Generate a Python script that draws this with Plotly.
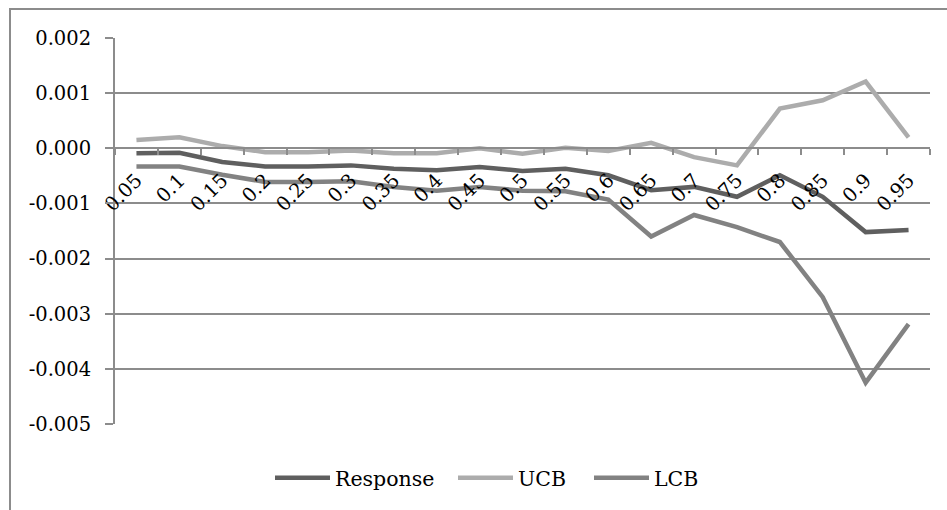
import plotly.graph_objects as go

# Quantile levels on the category axis
quantiles = ["0.05", "0.1", "0.15", "0.2", "0.25", "0.3", "0.35", "0.4", "0.45", "0.5",
             "0.55", "0.6", "0.65", "0.7", "0.75", "0.8", "0.85", "0.9", "0.95"]

# Estimated response with upper / lower confidence bounds
response = [-0.00009, -0.00008, -0.00025, -0.00033, -0.00033, -0.00031, -0.00037, -0.00040,
            -0.00034, -0.00041, -0.00037, -0.00049, -0.00076, -0.00070, -0.00088, -0.00049,
            -0.00088, -0.00152, -0.00148]
ucb = [0.00015, 0.00020, 0.00004, -0.00007, -0.00007, -0.00004, -0.00009, -0.00009,
       0.00000, -0.00010, 0.00001, -0.00005, 0.00010, -0.00016, -0.00031, 0.00072,
       0.00087, 0.00121, 0.00020]
lcb = [-0.00033, -0.00033, -0.00048, -0.00061, -0.00061, -0.00060, -0.00070, -0.00077,
       -0.00070, -0.00077, -0.00078, -0.00093, -0.00160, -0.00121, -0.00143, -0.00170,
       -0.00270, -0.00425, -0.00319]

# Value axis ticks
y_ticks = [0.002, 0.001, 0.0, -0.001, -0.002, -0.003, -0.004, -0.005]
y_tick_text = ["0.002", "0.001", "0.000", "-0.001", "-0.002", "-0.003", "-0.004", "-0.005"]

Y_MIN, Y_MAX = -0.005, 0.002
FONT = "DejaVu Serif"
GRID = "#8c8c8c"

W, H = 947, 510
L, R, T, B = 115, 17, 38, 86
pw, ph = W - L - R, H - T - B


def px_x(p):
    return (p - L) / pw


def px_y(p):
    return (H - B - p) / ph


# each series gets its own legend box so the entries can be spaced freely
series = [("Response", response, "#5f5f5f", "legend", 270),
          ("UCB", ucb, "#acacac", "legend2", 453),
          ("LCB", lcb, "#828282", "legend3", 589)]

fig = go.Figure()
legend_layout = {}
for name, values, color, leg, left in series:
    fig.add_trace(go.Scatter(x=quantiles, y=values, name=name, mode="lines",
                             legend=leg, showlegend=True,
                             line=dict(color=color, width=4.5)))
    legend_layout[leg] = dict(orientation="h", x=px_x(left), xanchor="left",
                              y=px_y(478), yanchor="middle", itemwidth=55,
                              font=dict(family=FONT, size=20.5),
                              bgcolor="rgba(0,0,0,0)")

fig.update_layout(
    width=W, height=H, showlegend=True,
    margin=dict(l=L, r=R, t=T, b=B, autoexpand=False),
    paper_bgcolor="white", plot_bgcolor="white",
    font=dict(family=FONT, size=19.5, color="black"),
    xaxis=dict(
        type="category", anchor="free", range=[-0.5, len(quantiles) - 0.5],
        position=(0 - Y_MIN) / (Y_MAX - Y_MIN),
        showline=True, linecolor=GRID, linewidth=2,
        ticks="outside", ticklen=6, tickcolor=GRID, tickwidth=2,
        tickson="boundaries", tickangle=-45, showgrid=False,
        ticklabelstandoff=12,
        tickfont=dict(family=FONT, size=19.5), automargin=False,
    ),
    yaxis=dict(
        range=[Y_MIN, Y_MAX], tickvals=y_ticks, ticktext=y_tick_text,
        showline=True, linecolor=GRID, linewidth=2,
        ticks="outside", ticklen=8, tickcolor=GRID, tickwidth=2,
        showgrid=True, gridcolor=GRID, gridwidth=2, zeroline=False,
        ticklabelstandoff=10,
        tickfont=dict(family=FONT, size=19.5), automargin=False,
    ),
    shapes=[dict(type="rect", xref="paper", yref="paper",
                 x0=px_x(10), x1=px_x(W + 20), y0=px_y(H + 20), y1=px_y(9),
                 line=dict(color=GRID, width=2), layer="below")],
    **legend_layout,
)

fig.write_html("out.html")
